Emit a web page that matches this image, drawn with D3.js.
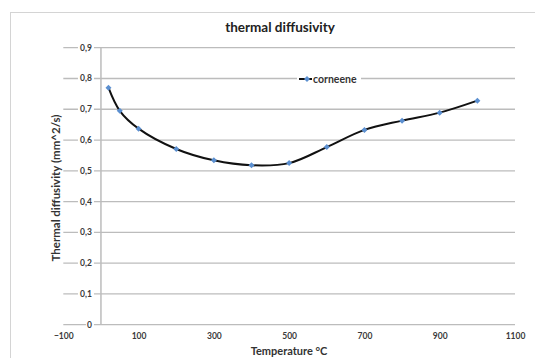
<!DOCTYPE html>
<html lang="en">
<head>
<meta charset="utf-8">
<title>thermal diffusivity</title>
<script src="https://cdn.jsdelivr.net/npm/d3@7"></script>
<style>
  body { margin: 0; background: #fff; }
  text { font-family: Lato, "Open Sans", sans-serif; font-weight: bold; }
</style>
</head>
<body>
<script>
// data
var temperature = [20, 50, 100, 200, 300, 400, 500, 600, 700, 800, 900, 1000];
var corneene = [0.77, 0.695, 0.637, 0.571, 0.534, 0.518, 0.525, 0.577, 0.633, 0.663, 0.689, 0.728];
var xTicks = [-100, 100, 300, 500, 700, 900, 1100];
var yTicks = [0, 0.1, 0.2, 0.3, 0.4, 0.5, 0.6, 0.7, 0.8, 0.9];
var seriesName = "corneene";

var W = 535, H = 358;
var svg = d3.select("body").append("svg")
    .attr("width", W)
    .attr("height", H);

// chart border (cut off at right/bottom like the picture)
svg.append("rect")
    .attr("x", 10.5).attr("y", 12.5)
    .attr("width", 700).attr("height", 500)
    .attr("fill", "#fff")
    .attr("stroke", "#d4d4d4");

var x = d3.scaleLinear().domain([-100, 1100]).range([63.3, 515]);
var y = d3.scaleLinear().domain([0, 0.9]).range([324.7, 47.7]);

// horizontal gridlines
svg.append("g").selectAll("line")
    .data(yTicks)
    .join("line")
    .attr("x1", x(-100)).attr("x2", x(1100))
    .attr("y1", d => y(d)).attr("y2", d => y(d))
    .attr("stroke", "#bcbcbc")
    .attr("stroke-width", 1.3);

// vertical axis at x = 0
svg.append("line")
    .attr("x1", x(0)).attr("x2", x(0))
    .attr("y1", y(0.9)).attr("y2", y(0))
    .attr("stroke", "#bcbcbc")
    .attr("stroke-width", 1.5);

// y tick labels, boxed in white over the gridlines
var fmtY = d => d === 0 ? "0" : d3.format(".1f")(d).replace(".", ",");
var yl = svg.append("g").selectAll("g")
    .data(yTicks)
    .join("g")
    .attr("transform", d => "translate(" + (x(0) - 9) + "," + y(d) + ")");
yl.append("rect")
    .attr("x", d => d === 0 ? -6 : -14).attr("y", -4)
    .attr("width", d => d === 0 ? 8 : 16).attr("height", 8)
    .attr("fill", "#fff");
yl.append("text")
    .attr("text-anchor", "end")
    .attr("dy", "0.35em")
    .attr("font-size", 8.5)
    .attr("fill", "#3a3a3a")
    .text(fmtY);

// x tick labels
var xAxis = d3.axisBottom(x).tickValues(xTicks).tickSize(0).tickPadding(0)
    .tickFormat(d3.format("d"));
var gx = svg.append("g")
    .attr("transform", "translate(0," + (y(0) + 8) + ")")
    .call(xAxis);
gx.select(".domain").remove();
gx.selectAll("text")
    .attr("font-family", "Lato, 'Open Sans', sans-serif")
    .attr("font-weight", "bold")
    .attr("font-size", 8.5)
    .attr("fill", "#3a3a3a");

// smoothed series line
var line = d3.line()
    .x((d, i) => x(temperature[i]))
    .y(d => y(d))
    .curve(d3.curveCatmullRom.alpha(0.5));

svg.append("path")
    .datum(corneene)
    .attr("d", line)
    .attr("fill", "none")
    .attr("stroke", "#111")
    .attr("stroke-width", 2);

// diamond markers (square turned 45 degrees)
var diamond = d3.symbol().type(d3.symbolSquare).size(18);
svg.append("g").selectAll("path")
    .data(corneene)
    .join("path")
    .attr("d", diamond)
    .attr("transform", (d, i) => "translate(" + x(temperature[i]) + "," + y(d) + ") rotate(45)")
    .attr("fill", "#5b8fd0");

// legend
var lg = svg.append("g").attr("transform", "translate(297,79)");
lg.append("rect")
    .attr("x", 0).attr("y", -6)
    .attr("width", 64).attr("height", 12)
    .attr("fill", "#fff");
lg.append("line")
    .attr("x1", 2).attr("x2", 15)
    .attr("y1", 0).attr("y2", 0)
    .attr("stroke", "#111").attr("stroke-width", 2);
lg.append("path")
    .attr("d", diamond)
    .attr("transform", "translate(10,0) rotate(45)")
    .attr("fill", "#5b8fd0");
lg.append("text")
    .attr("x", 16)
    .attr("dy", "0.35em")
    .attr("font-size", 10.5)
    .attr("fill", "#333")
    .text(seriesName);

// title
svg.append("text")
    .attr("x", 280).attr("y", 32)
    .attr("text-anchor", "middle")
    .attr("font-size", 13.5)
    .attr("fill", "#222")
    .text("thermal diffusivity");

// axis titles
svg.append("text")
    .attr("x", 289).attr("y", 355)
    .attr("text-anchor", "middle")
    .attr("font-size", 11)
    .attr("fill", "#333")
    .text("Temperature °C");

svg.append("text")
    .attr("transform", "translate(60,188) rotate(-90)")
    .attr("text-anchor", "middle")
    .attr("font-size", 11.5)
    .attr("fill", "#333")
    .text("Thermal diffusivity (mm^2/s)");
</script>
</body>
</html>
